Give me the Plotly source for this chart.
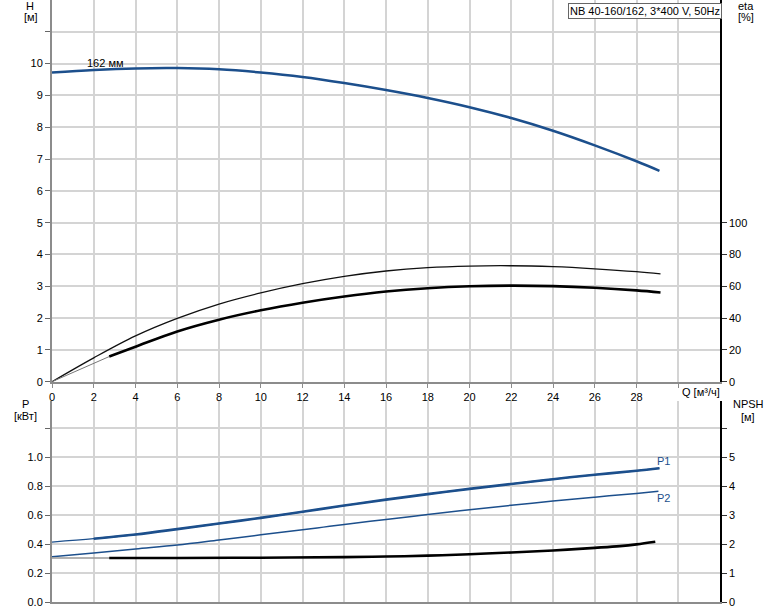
import plotly.graph_objects as go

# ---------------- data ----------------
q_h = [0, 2, 4, 6, 8, 10, 12, 14, 16, 18, 20, 22, 24, 26, 28, 29.1]
h_162 = [9.72, 9.80, 9.85, 9.86, 9.82, 9.72, 9.58, 9.39, 9.17, 8.92, 8.63, 8.29, 7.89, 7.43, 6.93, 6.63]

q_eta_tot = [0, 2, 4, 6, 8, 10, 12, 14, 16, 18, 20, 22, 24, 26, 28, 29.15]
eta_tot = [0, 15.0, 28.8, 39.8, 48.8, 55.8, 61.6, 66.2, 69.6, 71.7, 72.7, 72.9, 72.3, 71.0, 69.2, 67.8]

q_eta_ext = [0, 2.74]
eta_ext = [0, 15.8]
q_eta_hyd = [2.74, 4, 6, 8, 10, 12, 14, 16, 18, 20, 22, 24, 26, 28, 29.15]
eta_hyd = [15.8, 22.0, 31.6, 39.0, 44.9, 49.7, 53.6, 56.7, 58.8, 60.0, 60.4, 60.1, 59.1, 57.4, 56.1]

q_p1 = [0, 2, 4, 6, 8, 10, 12, 14, 16, 18, 20, 22, 24, 26, 28, 29.1]
p1 = [0.414, 0.437, 0.466, 0.503, 0.542, 0.581, 0.623, 0.666, 0.707, 0.745, 0.781, 0.815, 0.848, 0.879, 0.906, 0.924]
q_p2 = [0, 2, 4, 6, 8, 10, 12, 14, 16, 18, 20, 22, 24, 26, 28, 29.05]
p2 = [0.312, 0.338, 0.366, 0.393, 0.428, 0.464, 0.499, 0.535, 0.570, 0.604, 0.637, 0.668, 0.697, 0.724, 0.750, 0.764]

q_npsh_ext = [0, 2.74]
npsh_ext = [1.52, 1.52]
q_npsh = [2.74, 6, 10, 14, 16, 18, 20, 22, 24, 26, 27.2, 28, 28.9]
npsh = [1.52, 1.52, 1.53, 1.55, 1.57, 1.60, 1.65, 1.71, 1.78, 1.87, 1.93, 1.99, 2.08]

q_ticks = list(range(0, 31, 2))
q_ticktext = [str(v) for v in range(0, 29, 2)] + [""]
h_ticks = list(range(0, 12))
h_ticktext = [str(v) for v in range(0, 11)] + [""]
eta_ticks = [0, 20, 40, 60, 80, 100]
p_ticks = [0.0, 0.2, 0.4, 0.6, 0.8, 1.0, 1.2]
p_ticktext = ["0.0", "0.2", "0.4", "0.6", "0.8", "1.0", ""]
npsh_ticks = [0, 1, 2, 3, 4, 5, 6]
npsh_ticktext = ["0", "1", "2", "3", "4", "5", ""]

title_box = "NB 40-160/162, 3*400 V, 50Hz"

# ---------------- layout helpers ----------------
W, H = 774, 611
ML, MR, MT, MB = 52, 54, 0, 9
PW = W - ML - MR
PH = H - MT - MB


def px_x(px):
    return (px - ML) / PW


def px_y(py):
    return (PH - (py - MT)) / PH


BLUE = "#1c4f8c"
GRID = "#d4d4d4"
FONT = "Liberation Sans, Arial, sans-serif"

fig = go.Figure()

# top: H curve
fig.add_trace(go.Scatter(x=q_h, y=h_162, mode="lines", line=dict(color=BLUE, width=2.5, shape="spline"),
                         xaxis="x", yaxis="y", hoverinfo="skip"))
# eta curves
fig.add_trace(go.Scatter(x=q_eta_tot, y=eta_tot, mode="lines", line=dict(color="#111", width=1.3, shape="spline"),
                         xaxis="x", yaxis="y2", hoverinfo="skip"))
fig.add_trace(go.Scatter(x=q_eta_ext, y=eta_ext, mode="lines", line=dict(color="#777", width=1),
                         xaxis="x", yaxis="y2", hoverinfo="skip"))
fig.add_trace(go.Scatter(x=q_eta_hyd, y=eta_hyd, mode="lines", line=dict(color="#000", width=2.6, shape="spline"),
                         xaxis="x", yaxis="y2", hoverinfo="skip"))

# bottom: power curves
fig.add_trace(go.Scatter(x=q_p1, y=p1, mode="lines", line=dict(color=BLUE, width=1.3, shape="spline"),
                         xaxis="x2", yaxis="y3", hoverinfo="skip"))
fig.add_trace(go.Scatter(x=[v for v in q_p1 if v >= 2], y=[p for v, p in zip(q_p1, p1) if v >= 2],
                         mode="lines", line=dict(color=BLUE, width=2.6, shape="spline"),
                         xaxis="x2", yaxis="y3", hoverinfo="skip"))
fig.add_trace(go.Scatter(x=q_p2, y=p2, mode="lines", line=dict(color=BLUE, width=1.5, shape="spline"),
                         xaxis="x2", yaxis="y3", hoverinfo="skip"))
# NPSH
fig.add_trace(go.Scatter(x=q_npsh_ext, y=npsh_ext, mode="lines", line=dict(color="#999", width=1.5),
                         xaxis="x2", yaxis="y4", hoverinfo="skip"))
fig.add_trace(go.Scatter(x=q_npsh, y=npsh, mode="lines", line=dict(color="#000", width=2.6, shape="spline"),
                         xaxis="x2", yaxis="y4", hoverinfo="skip"))

top_dom = [px_y(381.7), 1.0]
bot_dom = [0.0, px_y(400.7)]

tickfont = dict(family=FONT, size=11, color="#000")

fig.update_layout(
    width=W, height=H,
    margin=dict(l=ML, r=MR, t=MT, b=MB),
    paper_bgcolor="white", plot_bgcolor="white",
    showlegend=False,
    font=dict(family=FONT, size=11, color="#000"),
    xaxis=dict(domain=[0, 1], range=[0, 32], anchor="y", tickmode="array", tickvals=q_ticks, ticktext=q_ticktext,
               showgrid=True, gridcolor=GRID, gridwidth=1.5, zeroline=False,
               showline=True, linecolor="#8c8c8c", linewidth=2,
               ticks="outside", ticklen=4, tickcolor="#8c8c8c", tickfont=tickfont),
    yaxis=dict(domain=top_dom, range=[0, 12], anchor="x", tickmode="array", tickvals=h_ticks, ticktext=h_ticktext,
               showgrid=True, gridcolor=GRID, gridwidth=1.5, zeroline=False,
               showline=True, linecolor="#8c8c8c", linewidth=2,
               ticks="outside", ticklen=5, tickcolor="#666", tickfont=tickfont),
    yaxis2=dict(range=[0, 240], overlaying="y", side="right", anchor="x", tickmode="array", tickvals=eta_ticks,
                showgrid=False, zeroline=False, showline=True, linecolor="#000", linewidth=1.5,
                ticks="outside", ticklen=5, tickcolor="#333", tickfont=tickfont),
    xaxis2=dict(domain=[0, 1], range=[0, 32], anchor="y3", tickmode="array", tickvals=q_ticks,
                showticklabels=False, showgrid=True, gridcolor=GRID, gridwidth=1.5, zeroline=False,
                showline=True, linecolor="#8c8c8c", linewidth=2),
    yaxis3=dict(domain=bot_dom, range=[0, 1.39], anchor="x2", tickmode="array", tickvals=p_ticks, ticktext=p_ticktext,
                showgrid=True, gridcolor=GRID, gridwidth=1.5, zeroline=False,
                showline=True, linecolor="#8c8c8c", linewidth=2,
                ticks="outside", ticklen=5, tickcolor="#666", tickfont=tickfont),
    yaxis4=dict(range=[0, 6.95], overlaying="y3", side="right", anchor="x2", tickmode="array", tickvals=npsh_ticks,
                ticktext=npsh_ticktext, showgrid=False, zeroline=False, showline=True, linecolor="#000", linewidth=1.5,
                ticks="outside", ticklen=5, tickcolor="#333", tickfont=tickfont),
)


def label(text, px, py, color="#000", xanchor="center", **kw):
    fig.add_annotation(text=text, x=px_x(px), y=px_y(py), xref="paper", yref="paper",
                       xanchor=xanchor, yanchor="middle", showarrow=False,
                       font=dict(family=FONT, size=11, color=color), **kw)


label("H", 30, 6)
label("[м]", 30.5, 17)
label("eta", 746, 6)
label("[%]", 746, 17)
label("P", 25, 404)
label("[кВт]", 25, 416)
label("NPSH", 748.5, 404)
label("[м]", 747.5, 417)
label("Q [м³/ч]", 701, 392)
label("162 мм", 105, 63)
label("P1", 663, 461, color=BLUE)
label("P2", 663, 498, color=BLUE)

fig.add_annotation(text=title_box, x=px_x(722), y=px_y(2.5), xref="paper", yref="paper",
                   xanchor="right", yanchor="top", showarrow=False,
                   font=dict(family=FONT, size=11, color="#000"),
                   bgcolor="white", bordercolor="#666", borderwidth=1, borderpad=1)

fig.write_html("out.html", config={"displayModeBar": False},
               post_script="document.body.style.margin='0';document.body.style.overflow='hidden';")
